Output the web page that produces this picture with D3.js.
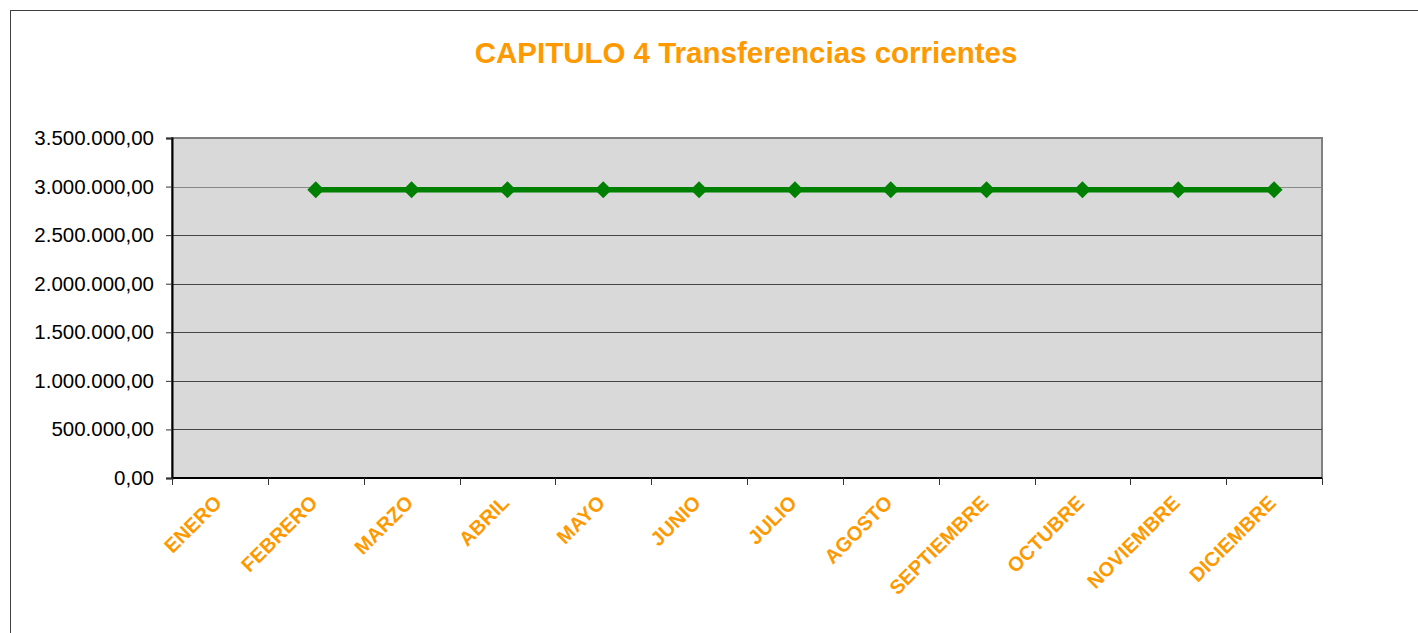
<!DOCTYPE html>
<html lang="es">
<head>
<meta charset="UTF-8">
<script src="https://d3js.org/d3.v7.min.js"></script>
<style>
  body { margin: 0; background: #fff; }
  svg { display: block; font-family: "Liberation Sans", Arial, sans-serif; }
</style>
</head>
<body>
<div id="chart"></div>
<script>
// data
const months = ["ENERO", "FEBRERO", "MARZO", "ABRIL", "MAYO", "JUNIO", "JULIO",
  "AGOSTO", "SEPTIEMBRE", "OCTUBRE", "NOVIEMBRE", "DICIEMBRE"];
const values = [null, 2967000, 2967000, 2967000, 2967000, 2967000, 2967000,
  2967000, 2967000, 2967000, 2967000, 2967000];
const yTicks = [0, 500000, 1000000, 1500000, 2000000, 2500000, 3000000, 3500000];

const W = 1418, H = 633;
const plot = { left: 172, top: 138, right: 1322, bottom: 478 };
const orange = "#FF9900";

const svg = d3.select("#chart").append("svg")
  .attr("width", W).attr("height", H);

// outer frame
svg.append("rect")
  .attr("x", 10.5).attr("y", 10.5)
  .attr("width", W + 20).attr("height", H + 20)
  .attr("fill", "none").attr("stroke", "#404040");

svg.append("text")
  .attr("x", 746).attr("y", 63)
  .attr("text-anchor", "middle")
  .attr("font-size", 29.5).attr("font-weight", "bold")
  .attr("fill", orange)
  .text("CAPITULO 4 Transferencias corrientes");

const x = d3.scaleBand().domain(months).range([plot.left, plot.right]);
const y = d3.scaleLinear().domain([0, 3500000]).range([plot.bottom, plot.top]);

// plot background
svg.append("rect")
  .attr("x", plot.left).attr("y", plot.top)
  .attr("width", plot.right - plot.left).attr("height", plot.bottom - plot.top)
  .attr("fill", "#D9D9D9").attr("stroke", "#808080").attr("stroke-width", 2);

// gridlines
svg.append("g").selectAll("line")
  .data(yTicks.slice(1, -1))
  .join("line")
  .attr("x1", plot.left).attr("x2", plot.right)
  .attr("y1", d => Math.round(y(d)) + 0.5).attr("y2", d => Math.round(y(d)) + 0.5)
  .attr("stroke", d => d === 3000000 ? "#888" : "#444");

// y axis
const fmt = d3.formatLocale({ decimal: ",", thousands: ".", grouping: [3], currency: ["", ""] }).format(",.2f");
const yAxis = svg.append("g")
  .attr("transform", `translate(${plot.left},0)`)
  .call(d3.axisLeft(y).tickValues(yTicks).tickFormat(fmt).tickSize(6).tickPadding(12));
yAxis.select(".domain").attr("stroke", "#000").attr("stroke-width", 2);
yAxis.selectAll(".tick line").attr("stroke", "#333");
yAxis.selectAll(".tick text")
  .attr("font-size", 20.5).attr("fill", "#000")
  .attr("font-family", "'Liberation Sans', Arial, sans-serif");

// x axis: ticks on category boundaries
const xAxis = svg.append("g").attr("transform", `translate(0,${plot.bottom})`);
xAxis.append("line")
  .attr("x1", plot.left).attr("x2", plot.right)
  .attr("stroke", "#000").attr("stroke-width", 2);
xAxis.selectAll("line.tk")
  .data(months.concat(["end"]))
  .join("line").attr("class", "tk")
  .attr("x1", (d, i) => Math.round(plot.left + i * x.step()) + 0.5)
  .attr("x2", (d, i) => Math.round(plot.left + i * x.step()) + 0.5)
  .attr("y1", 0).attr("y2", 7)
  .attr("stroke", "#333");
xAxis.selectAll("text")
  .data(months)
  .join("text")
  .attr("transform", d => `translate(${x(d) + x.bandwidth() / 2 + 3},${26}) rotate(-45)`)
  .attr("text-anchor", "end")
  .attr("font-size", 20).attr("font-weight", "bold")
  .attr("fill", orange)
  .text(d => d);

// series
const pts = months.map((m, i) => ({ m, v: values[i] })).filter(d => d.v != null);
const cx = d => x(d.m) + x.bandwidth() / 2;

svg.append("path")
  .datum(pts)
  .attr("fill", "none")
  .attr("stroke", "#008000").attr("stroke-width", 5.5)
  .attr("d", d3.line().x(cx).y(d => y(d.v)));

const r = 8.5;
svg.append("g").selectAll("path")
  .data(pts)
  .join("path")
  .attr("transform", d => `translate(${cx(d)},${y(d.v)})`)
  .attr("d", `M0,${-r}L${r},0L0,${r}L${-r},0Z`)
  .attr("fill", "#008000");
</script>
</body>
</html>
